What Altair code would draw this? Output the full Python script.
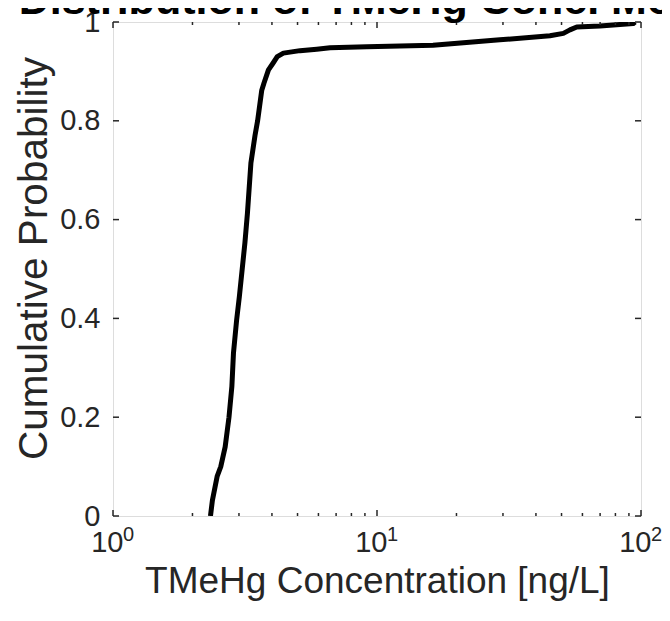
import altair as alt
import pandas as pd

conc = [2.34, 2.38, 2.48, 2.56, 2.66, 2.75, 2.82, 2.86, 2.94, 3.01, 3.16, 3.23,
        3.33, 3.45, 3.53, 3.66, 3.73, 3.88, 4.03, 4.19, 4.42, 5.11, 5.91, 6.64,
        9.15, 16.3, 29.2, 45.2, 50.8, 53.8, 57.1, 69.9, 93.5, 95.0]
prob = [0.0, 0.032, 0.080, 0.10, 0.14, 0.20, 0.262, 0.33, 0.397, 0.444, 0.553, 0.613,
        0.715, 0.77, 0.80, 0.862, 0.876, 0.903, 0.916, 0.93, 0.937, 0.942, 0.945, 0.948,
        0.950, 0.953, 0.964, 0.972, 0.977, 0.984, 0.99, 0.992, 0.997, 1.0]

x_major = [1, 10, 100]
x_exponent = ["0", "1", "2"]
x_minor = [2, 3, 4, 5, 6, 7, 8, 9, 20, 30, 40, 50, 60, 70, 80, 90]
y_ticks = [0, 0.2, 0.4, 0.6, 0.8, 1.0]

TITLE = "Distribution of TMeHg Conc. Model"
XLABEL = "TMeHg Concentration [ng/L]"
YLABEL = "Cumulative Probability"

W, H = 528, 494
FONT = "Liberation Sans"
TXT = "#262626"

df = pd.DataFrame({"conc": conc, "prob": prob})
dmaj = pd.DataFrame({"v": x_major, "exp": x_exponent})
dmin = pd.DataFrame({"v": x_minor})
dy = pd.DataFrame({"v": y_ticks})
dtitle = pd.DataFrame({"t": [TITLE]})

xs = alt.Scale(type="log", domain=[1, 100], nice=False)
ys = alt.Scale(domain=[0, 1], nice=False, zero=False)

x_axis = alt.Axis(
    values=x_major, title=XLABEL, ticks=False, domain=False, grid=False,
    labelExpr="'10'", labelFlush=False, labelAlign="right", labelOffset=10,
    labelFontSize=29, labelFont=FONT, labelColor=TXT, labelPadding=12,
    titleFontSize=37, titleFont=FONT, titleColor=TXT, titleFontWeight="normal",
    titlePadding=6)
y_axis = alt.Axis(
    values=y_ticks, title=YLABEL, ticks=False, domain=False, grid=False,
    labelExpr="datum.value == 0 ? '0' : datum.value == 1 ? '1' : format(datum.value, '.1f')",
    labelFlush=False,
    labelFontSize=29, labelFont=FONT, labelColor=TXT, labelPadding=13,
    titleFontSize=40.5, titleFont=FONT, titleColor=TXT, titleFontWeight="normal",
    titlePadding=4, titleY=236)

line = alt.Chart(df).mark_line(color="black", strokeWidth=5, strokeJoin="round", clip=True).encode(
    x=alt.X("conc:Q", scale=xs, axis=x_axis),
    y=alt.Y("prob:Q", scale=ys, axis=y_axis),
)

tick_color = "#262626"
def xrule(d, y0, y1):
    return alt.Chart(d).mark_rule(color=tick_color, strokeWidth=1.5).encode(
        x=alt.X("v:Q", scale=xs, axis=x_axis, title=XLABEL), y=alt.value(y0), y2=alt.value(y1))

def yrule(d, x0, x1):
    return alt.Chart(d).mark_rule(color=tick_color, strokeWidth=1.5).encode(
        y=alt.Y("v:Q", scale=ys, axis=y_axis, title=YLABEL), x=alt.value(x0), x2=alt.value(x1))

exps = alt.Chart(dmaj).mark_text(
    align="left", baseline="alphabetic", fontSize=20, font=FONT, color=TXT, dx=10
).encode(
    x=alt.X("v:Q", scale=xs, axis=x_axis, title=XLABEL),
    y=alt.value(H + 25),
    text="exp:N",
)

title = alt.Chart(dtitle).mark_text(
    align="center", baseline="alphabetic", fontSize=43, fontWeight="bold", font=FONT, color="black"
).encode(x=alt.value(W / 2), y=alt.value(-8), text="t:N")

layers = [
    line,
    xrule(dmaj, H, H - 6), xrule(dmaj, 0, 6),
    xrule(dmin, H, H - 3), xrule(dmin, 0, 3),
    yrule(dy, 0, 6), yrule(dy, W, W - 6),
    exps, title,
]

chart = alt.layer(*layers).properties(
    width=W, height=H,
    autosize=alt.AutoSizeParams(type="none"),
    padding={"left": 105, "top": 14, "right": 21, "bottom": 97},
).configure_view(stroke="#262626", strokeWidth=1.5).configure(background="white")

chart.save("out.html", embed_options={"renderer": "svg", "actions": False})
